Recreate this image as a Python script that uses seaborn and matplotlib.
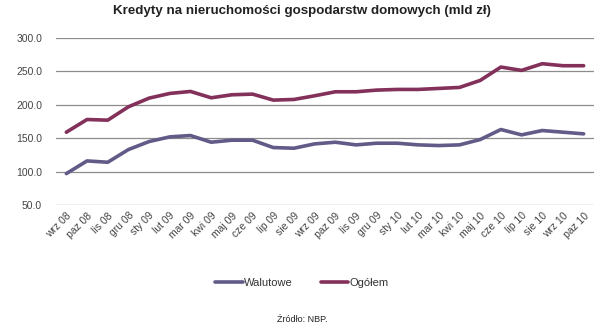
import matplotlib
matplotlib.use("Agg")
import matplotlib.pyplot as plt
import seaborn as sns
import pandas as pd
from matplotlib.lines import Line2D

months = ["wrz 08", "paz 08", "lis 08", "gru 08", "sty 09", "lut 09", "mar 09", "kwi 09",
          "maj 09", "cze 09", "lip 09", "sie 09", "wrz 09", "paz 09", "lis 09", "gru 09",
          "sty 10", "lut 10", "mar 10", "kwi 10", "maj 10", "cze 10", "lip 10", "sie 10",
          "wrz 10", "paz 10"]
walutowe = [97, 116, 114, 133, 145, 152, 154, 144, 147, 147, 136, 135, 141.5, 144,
            140, 142.5, 142.5, 140, 139, 140, 148, 163, 155, 161.5, 159, 156.5]
ogolem = [159, 178, 177, 197, 210, 217, 220, 210.5, 215, 216, 207, 208, 213.5, 219.5,
          219.5, 222, 223, 223, 224.5, 226, 236.5, 256.5, 251.5, 261.5, 258.5, 258.5]

series_names = ["Walutowe", "Ogółem"]
colors = ["#615B88", "#83305A"]

df = pd.DataFrame({
    "idx": list(range(len(months))) * 2,
    "val": walutowe + ogolem,
    "series": [series_names[0]] * len(months) + [series_names[1]] * len(months),
})

sns.set_style("white")
plt.rcParams["font.family"] = ["Liberation Sans", "DejaVu Sans"]

fig = plt.figure(figsize=(6.04, 3.35), dpi=100)
ax = fig.add_axes([56 / 604, 1 - 205 / 335, 538 / 604, 167 / 335])

sns.lineplot(data=df, x="idx", y="val", hue="series", palette=colors,
             hue_order=series_names, linewidth=2.6, ax=ax, legend=False)

ax.set_xlim(-0.5, len(months) - 0.5)
ax.set_ylim(50, 300)
ax.set_yticks([50, 100, 150, 200, 250, 300])
ax.set_yticklabels([f"{v:.1f}" for v in [50, 100, 150, 200, 250, 300]])
ax.set_xticks(range(len(months)))
ax.set_xticklabels(months, rotation=45, ha="right", va="top", rotation_mode="anchor")
ax.tick_params(axis="both", length=0, labelsize=7.5, colors="#444444")
ax.tick_params(axis="y", pad=10)
ax.tick_params(axis="x", pad=4)
ax.set_xlabel("")
ax.set_ylabel("")
ax.grid(axis="y", color="#8c8c8c", linewidth=0.9)
ax.grid(axis="x", visible=False)
ax.set_axisbelow(True)
for s in ax.spines.values():
    s.set_visible(False)

fig.text(0.5, 1 - 11 / 335, "Kredyty na nieruchomości gospodarstw domowych (mld zł)",
         ha="center", va="center", fontsize=9.6, fontweight="bold", color="#222222")

handles = [Line2D([0], [0], color=c, linewidth=2.6) for c in colors]
fig.legend(handles, series_names, loc="center", bbox_to_anchor=(0.5, 1 - 283 / 335),
           ncol=2, frameon=False, fontsize=8, handlelength=2.5, handletextpad=0.1,
           columnspacing=2.5, labelcolor="#333333")

fig.text(0.5, 1 - 320 / 335, "Źródło: NBP.", ha="center", va="center", fontsize=6.5,
         color="#222222")

fig.savefig("out.png", dpi=100, facecolor="white")
